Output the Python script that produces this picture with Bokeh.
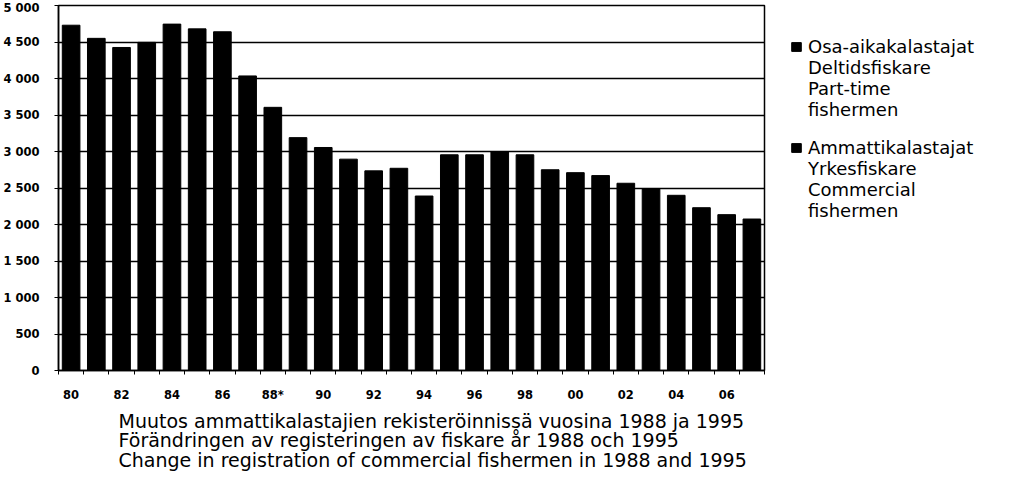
from bokeh.plotting import figure
from bokeh.models import FixedTicker, Legend, LegendItem, Title
from bokeh.embed import file_html
from bokeh.resources import INLINE

# ---- data ----
years = list(range(1980, 2008))
totals = [4730, 4550, 4425, 4495, 4745, 4680, 4640, 4035, 3605, 3190,
          3055, 2895, 2735, 2770, 2390, 2955, 2955, 2995, 2955, 2750,
          2710, 2670, 2565, 2485, 2400, 2230, 2135, 2075]
x_tick_years = [1980, 1982, 1984, 1986, 1988, 1990, 1992, 1994, 1996, 1998,
                2000, 2002, 2004, 2006]
x_tick_labels = ["80", "82", "84", "86", "88*", "90", "92", "94", "96", "98",
                 "00", "02", "04", "06"]
y_ticks = [0, 500, 1000, 1500, 2000, 2500, 3000, 3500, 4000, 4500, 5000]
y_tick_labels = ["0", "500", "1 000", "1 500", "2 000", "2 500", "3 000",
                 "3 500", "4 000", "4 500", "5 000"]
legend_part_time = ["Osa-aikakalastajat", "Deltidsfiskare", "Part-time", "fishermen"]
legend_commercial = ["Ammattikalastajat", "Yrkesfiskare", "Commercial", "fishermen"]
caption_lines = ["Muutos ammattikalastajien rekisteröinnissä vuosina 1988 ja 1995",
                 "Förändringen av registeringen av fiskare år 1988 och 1995",
                 "Change in registration of commercial fishermen in 1988 and 1995"]

FONT = "DejaVu Sans"

p = figure(frame_width=706, frame_height=365, output_backend="svg",
           toolbar_location=None,
           x_range=(1979.5, 2007.5), y_range=(0, 5000),
           min_border_left=54, min_border_top=5, min_border_right=0,
           min_border_bottom=0)

r = p.vbar(x=years, top=totals, width=0.7, color="black")
blank = p.vbar(x=[], top=[], width=0.7, fill_alpha=0, line_alpha=0)

# axes
p.xaxis.ticker = FixedTicker(ticks=x_tick_years,
                             minor_ticks=[y - 0.5 for y in years] + [years[-1] + 0.5])
p.xaxis.major_label_overrides = dict(zip(x_tick_years, x_tick_labels))
p.xaxis.major_tick_out = 0
p.xaxis.major_tick_in = 0
p.xaxis.minor_tick_out = 4
p.xaxis.minor_tick_in = 0
p.xaxis.major_label_standoff = 13

p.yaxis.ticker = FixedTicker(ticks=y_ticks)
p.yaxis.major_label_overrides = dict(zip(y_ticks, y_tick_labels))
p.yaxis.major_tick_out = 4
p.yaxis.major_tick_in = 0
p.yaxis.minor_tick_out = 0
p.yaxis.minor_tick_in = 0
p.yaxis.major_label_standoff = 15

for ax in (p.xaxis, p.yaxis):
    ax.axis_line_color = "black"
    ax.axis_line_width = 1.5
    ax.major_tick_line_color = "black"
    ax.minor_tick_line_color = "black"
    ax.major_label_text_font = FONT
    ax.major_label_text_font_style = "bold"
    ax.major_label_text_font_size = "11.5px"
    ax.major_label_text_color = "black"

p.xgrid.visible = False
p.ygrid.ticker = FixedTicker(ticks=y_ticks)
p.ygrid.grid_line_color = "black"
p.ygrid.grid_line_width = 1.5
p.outline_line_color = "black"
p.outline_line_width = 1.5
p.background_fill_color = "white"

# legend: one row per text line, glyph only on the first line of each entry
items = [LegendItem(label=legend_part_time[0], renderers=[r])]
items += [LegendItem(label=t, renderers=[blank]) for t in legend_part_time[1:]]
items += [LegendItem(label="", renderers=[blank])]
items += [LegendItem(label=legend_commercial[0], renderers=[r])]
items += [LegendItem(label=t, renderers=[blank]) for t in legend_commercial[1:]]
legend = Legend(items=items, location=(24, 147), margin=0, padding=2,
                spacing=0, glyph_width=12, glyph_height=11, label_standoff=6,
                label_height=17, label_text_font=FONT,
                label_text_font_size="18px", label_text_color="black",
                border_line_alpha=0, background_fill_alpha=0)
p.add_layout(legend, "right")

p.add_layout(Title(text="\n".join(caption_lines), align="left", offset=60,
                   standoff=7, text_font=FONT, text_font_size="19px",
                   text_font_style="normal", text_line_height=0.89,
                   text_color="black"), "below")

open("out.html", "w").write(file_html(p, INLINE))
